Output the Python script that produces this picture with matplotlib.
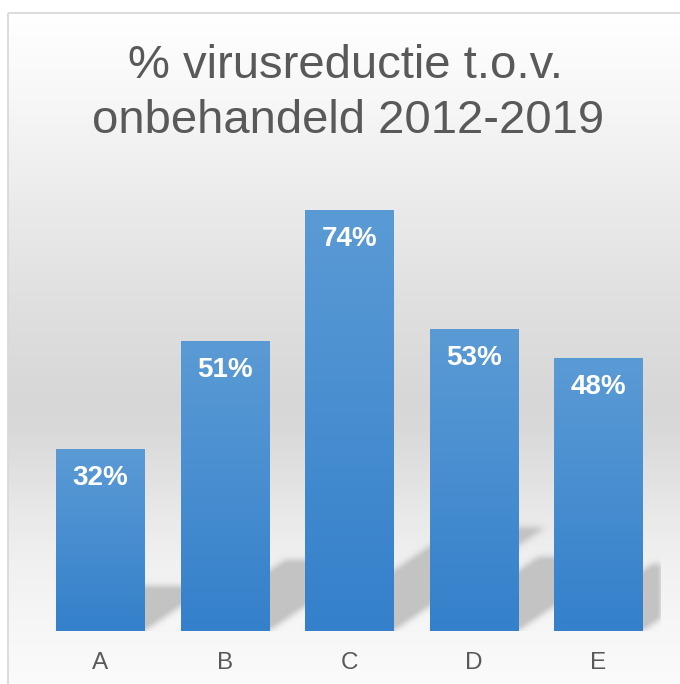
import numpy as np
import matplotlib
matplotlib.use('Agg')
import matplotlib.pyplot as plt
from matplotlib.path import Path
from matplotlib.patches import Rectangle

categories = ['A', 'B', 'C', 'D', 'E']
values = [32, 51, 74, 53, 48]
title_lines = ['% virusreductie t.o.v.', 'onbehandeld 2012-2019']

plt.rcParams['font.family'] = ['Liberation Sans', 'DejaVu Sans']

W, H = 680, 684
DPI = 100
fig = plt.figure(figsize=(W / DPI, H / DPI), dpi=DPI)
fig.patch.set_facecolor('white')

# ---- chart-area background (vertical gradient) in pixel coordinates ----
bg = fig.add_axes([0, 0, 1, 1], zorder=0)
ys = np.arange(13, H + 1)
g = np.interp(ys, [13, 100, 200, 300, 400, 430, 480, 520, 560, 620, 684],
              [255, 247, 235, 224, 215, 217, 226, 234, 240, 246, 251]) / 255.0
grad = np.repeat(g[:, None], 3, axis=1)[:, None, :]
bg.imshow(grad, extent=(8, W, H, 13), aspect='auto', interpolation='bilinear')
bg.add_patch(Rectangle((8, 13), W + 20, H + 20, fill=False,
                       edgecolor='#d9d9d9', lw=1.3))
bg.set_xlim(0, W)
bg.set_ylim(H, 0)
bg.axis('off')

# ---- main plot axes ----
left_px, right_px, base_px = 37.75, 660.75, 631
ppu = 5.69          # pixels per percent
ymax = 80
ax = fig.add_axes([left_px / W, (H - base_px) / H,
                   (right_px - left_px) / W, ymax * ppu / H], zorder=1)
ax.patch.set_alpha(0)

x = np.arange(len(categories))
bar_w = 0.707
bars = ax.bar(x, values, width=bar_w, color='#4a8dd0', zorder=2)

# gradient fill on each bar
top_c = np.array([0x5b, 0x9b, 0xd5]) / 255.0
bot_c = np.array([0x34, 0x80, 0xcb]) / 255.0
t = np.linspace(0, 1, 256)[:, None]
bar_img = (top_c[None, :] * (1 - t) + bot_c[None, :] * t)[:, None, :]
for b in bars:
    x0, w, h = b.get_x(), b.get_width(), b.get_height()
    im = ax.imshow(bar_img, extent=(x0, x0 + w, 0, h), aspect='auto',
                   origin='upper', interpolation='bilinear', zorder=2.5)
    im.set_clip_path(b)

# perspective shadows behind the bars
px_per_x = (right_px - left_px) / len(categories)
nx, ny = int(right_px - left_px) * 2, int(ymax * ppu) * 2
gx = np.linspace(-0.5, 4.5, nx)
gy = np.linspace(0, ymax, ny)
GX, GY = np.meshgrid(gx, gy)
pts = np.column_stack([GX.ravel(), GY.ravel()])
mask = np.zeros(GX.shape)
for b in bars:
    x0, w, h = b.get_x(), b.get_width(), b.get_height()
    dx = 0.36 * h * ppu / px_per_x
    dy = 0.245 * h
    poly = Path([(x0, 0), (x0 + w, 0), (x0 + w + dx, dy), (x0 + dx, dy), (x0, 0)])
    m = poly.contains_points(pts).reshape(GX.shape)
    mask = np.maximum(mask, m.astype(float))
sig = 6.0
k = np.arange(-int(3 * sig), int(3 * sig) + 1)
kern = np.exp(-k ** 2 / (2 * sig ** 2))
kern /= kern.sum()
blur = np.apply_along_axis(lambda r: np.convolve(r, kern, mode='same'), 1, mask)
blur = np.apply_along_axis(lambda c: np.convolve(c, kern, mode='same'), 0, blur)
shadow = np.zeros(GX.shape + (4,))
shadow[..., :3] = 0.765
shadow[..., 3] = np.clip(blur * 1.1, 0, 1)
ax.imshow(shadow, extent=(-0.5, 4.5, 0, ymax), origin='lower', aspect='auto',
          interpolation='bilinear', zorder=1.5)

# data labels
for xi, v in zip(x, values):
    ax.annotate(f'{v}%', xy=(xi, v), xytext=(0, -29 * 72 / DPI),
                textcoords='offset points', ha='center', va='center',
                color='white', fontsize=20, fontweight='bold', zorder=4)

ax.set_xlim(-0.5, 4.5)
ax.set_ylim(0, ymax)
ax.set_xticks(x)
ax.set_xticklabels(categories)
ax.tick_params(axis='x', length=0, pad=15, labelsize=17.5, labelcolor='#595959')
ax.set_yticks([])
for s in ax.spines.values():
    s.set_visible(False)

# title
fig.text(346 / W, 1 - 78 / H, title_lines[0], ha='center', va='baseline',
         fontsize=34, color='#595959')
fig.text(348 / W, 1 - 133 / H, title_lines[1], ha='center', va='baseline',
         fontsize=34, color='#595959')

fig.savefig('out.png', dpi=DPI)
